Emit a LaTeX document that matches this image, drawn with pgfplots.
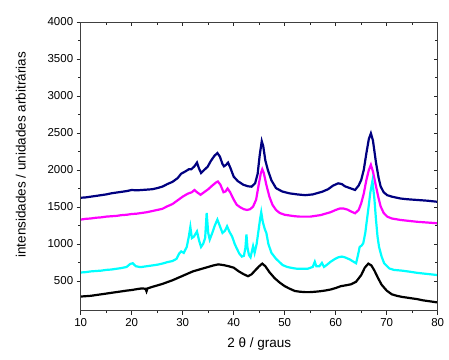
\documentclass[border=0pt]{standalone}
\usepackage{fontspec}
\setmainfont{Liberation Sans}
\usepackage{pgfplots}
\pgfplotsset{compat=1.18}
\definecolor{navyc}{RGB}{0,0,128}
\definecolor{magc}{RGB}{255,0,255}
\definecolor{cyanc}{RGB}{0,255,255}
\begin{document}
\begin{tikzpicture}
\path[use as bounding box] (-80.7pt,-48.4pt) rectangle (368.3pt,310.6pt);
\pgfplotsset{common/.style={scale only axis, width=357pt, height=288.6pt,
  xmin=10, xmax=80, ymin=100, ymax=4000,
  xtick={10,20,...,80}, ytick={500,1000,...,4000},
  minor x tick num=1, minor y tick num=1,
  major tick length=4pt, minor tick length=2.5pt,
  every tick/.style={black!85, line width=0.6pt},
  axis line style={black!75, line width=0.8pt},
  /pgf/number format/1000 sep={},
  /pgf/number format/assume math mode=true,
  tick label style={font=\fontsize{11.5}{13}\selectfont},
}}
\begin{axis}[common, tick align=outside, xtick pos=left, ytick pos=left,
  xlabel={2 θ / graus}, ylabel={intensidades / unidades arbitrárias},
  label style={font=\fontsize{13.5}{16}\selectfont},
  xlabel style={at={(axis description cs:0.5,-0.116)}, anchor=center},
  ylabel style={at={(axis description cs:-0.168,0.54)}, anchor=center},
]
\addplot[navyc, line width=2.2pt] coordinates {
(10,1625)(11,1630)(12,1640)(13,1650)(14,1660)(15,1670)(16,1685)(17,1695)(18,1705)(19,1715)(20,1730)(21,1725)(22,1730)(23,1735)(24,1740)(25,1755)(26,1775)(27,1810)(28,1840)(29,1890)(29.7,1950)(30.5,1980)(31.2,2010)(31.7,2010)(32.3,2050)(32.8,2100)(33.2,2020)(33.6,1960)(34.2,2000)(34.9,2045)(35.5,2120)(36.2,2190)(36.8,2230)(37.3,2180)(37.8,2080)(38.1,2050)(38.5,2070)(38.9,2100)(39.4,2020)(40,1910)(40.8,1850)(41.9,1800)(42.8,1780)(43.5,1775)(44.2,1820)(44.7,1950)(45.1,2200)(45.5,2390)(45.8,2320)(46.2,2130)(46.7,2000)(47.4,1860)(48.3,1755)(49.5,1710)(50.9,1685)(52.5,1670)(54,1660)(55.5,1670)(56.5,1690)(57.3,1705)(58.5,1740)(59.5,1790)(60.5,1820)(61.2,1810)(61.8,1780)(62.8,1755)(63.8,1730)(64.5,1790)(65,1865)(65.5,2000)(66,2220)(66.5,2420)(66.9,2495)(67.3,2400)(67.9,2100)(68.4,1900)(68.8,1780)(69.4,1700)(70.1,1660)(71,1640)(72.7,1615)(74,1605)(76,1595)(78,1585)(80,1570)
};
\addplot[magc, line width=2.2pt] coordinates {
(10,1330)(11,1340)(12,1345)(13,1355)(14,1360)(15,1370)(16,1375)(17,1380)(18,1390)(19,1395)(20,1405)(21,1410)(22,1420)(23,1430)(24,1445)(25,1460)(26,1475)(27,1510)(28,1540)(29,1590)(30,1640)(31,1680)(31.8,1700)(32.3,1730)(32.8,1700)(33.5,1665)(34.2,1700)(35,1740)(35.8,1790)(36.5,1830)(36.9,1845)(37.4,1800)(38,1700)(38.4,1710)(38.8,1750)(39.3,1700)(40,1600)(40.6,1530)(41.3,1495)(42,1470)(42.6,1460)(43.2,1470)(43.8,1505)(44.4,1600)(44.9,1800)(45.3,1950)(45.6,2010)(45.9,1960)(46.4,1800)(47,1640)(47.6,1530)(48.3,1460)(49,1420)(50,1395)(51,1385)(52,1375)(53,1370)(54,1370)(55,1370)(56,1380)(57,1390)(58,1410)(59,1430)(60,1460)(60.8,1480)(61.5,1480)(62.3,1465)(63,1440)(63.8,1415)(64.5,1460)(65,1550)(65.5,1680)(66,1860)(66.5,2000)(66.9,2070)(67.3,1980)(67.9,1780)(68.4,1620)(68.8,1510)(69.4,1420)(70.1,1370)(71,1345)(72.7,1325)(74,1315)(76,1300)(78,1290)(80,1280)
};
\addplot[cyanc, line width=2.2pt] coordinates {
(10,615)(11,620)(12,630)(13,635)(14,640)(15,650)(16,655)(17,665)(18,675)(19,690)(19.7,730)(20.2,740)(20.8,700)(21.5,690)(22,690)(23,700)(24,710)(25,720)(26,735)(27,755)(28,770)(28.8,800)(29.3,870)(29.7,900)(30.2,880)(30.8,960)(31.2,1100)(31.5,1230)(31.8,1080)(32.2,1100)(32.8,1170)(33.2,1050)(33.6,960)(34,1000)(34.4,1080)(34.7,1420)(35,1150)(35.3,1060)(35.8,1150)(36.3,1250)(36.8,1330)(37.3,1240)(37.8,1150)(38.3,1180)(38.7,1240)(39.2,1160)(39.7,1100)(40.2,1000)(40.6,940)(41.1,870)(41.6,830)(42,840)(42.3,950)(42.5,1130)(42.7,950)(43,850)(43.3,820)(43.8,970)(44.1,880)(44.5,1000)(44.9,1200)(45.2,1350)(45.4,1430)(45.7,1300)(46.1,1200)(46.4,1150)(46.8,1000)(47.4,880)(48.3,800)(49.6,715)(50.5,690)(51.5,675)(52.5,665)(53.5,665)(54.5,665)(55.5,690)(55.9,760)(56.2,700)(56.8,700)(57.3,745)(57.7,690)(58.3,720)(59,760)(59.9,800)(60.5,820)(61.2,830)(61.8,820)(62.8,790)(63.5,760)(64,740)(64.4,860)(64.7,960)(65.1,980)(65.4,1010)(65.8,1150)(66.3,1420)(66.8,1700)(67.2,1850)(67.6,1600)(67.9,1330)(68.2,1100)(68.5,960)(69,830)(69.5,740)(70.5,670)(71.4,650)(73,640)(74.6,625)(76,610)(78,595)(80,580)
};
\addplot[black, line width=2.2pt] coordinates {
(10,290)(11,295)(12,300)(13,310)(14,320)(15,330)(16,340)(17,350)(18,360)(19,370)(20,378)(21,390)(22,400)(22.7,395)(22.9,360)(23.1,400)(24,420)(25,440)(26,460)(27,485)(28,510)(29,540)(30,570)(31,600)(32,630)(33,650)(34,670)(35,690)(36,710)(37,725)(38,715)(39,700)(40,680)(41,630)(42,590)(42.8,565)(43.5,590)(44.3,650)(45,700)(45.6,735)(46.2,700)(47,620)(48,540)(49,480)(50,430)(51,395)(52,365)(53,355)(54,350)(55,350)(56,355)(57,362)(58,372)(59,385)(60,405)(61,430)(62,442)(63,455)(64,490)(65,580)(65.7,680)(66.4,735)(67,710)(67.6,640)(68.3,540)(69,450)(70,370)(71,320)(72,300)(73,285)(74,275)(75,265)(76,255)(77,240)(78,230)(79,220)(80,210)
};
\end{axis}
\begin{axis}[common, tick align=inside, xtick pos=right, ytick pos=right,
  xticklabels={}, yticklabels={}]
\end{axis}
\end{tikzpicture}
\end{document}
